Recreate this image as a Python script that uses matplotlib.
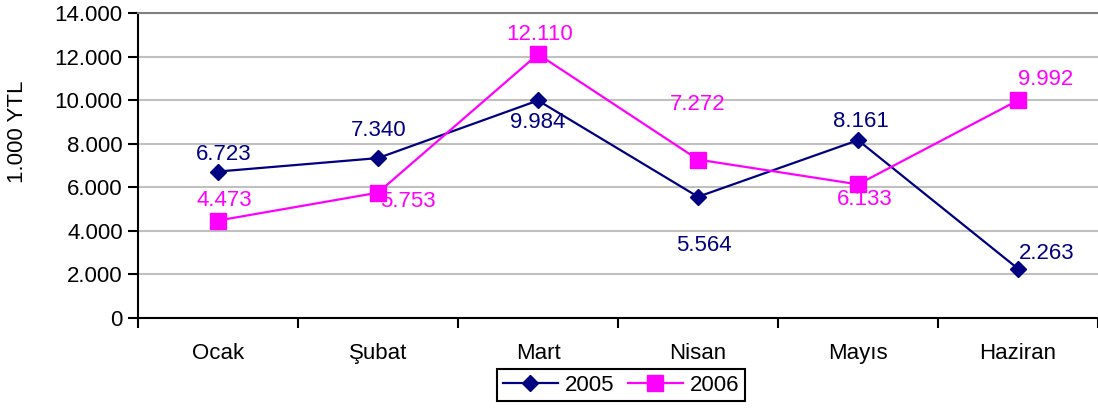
import matplotlib.pyplot as plt
from matplotlib.ticker import FuncFormatter, FixedLocator

plt.rcParams['font.family'] = ['Liberation Sans', 'DejaVu Sans']

months = ["Ocak", "Şubat", "Mart", "Nisan", "Mayıs", "Haziran"]
y2005 = [6723, 7340, 9984, 5564, 8161, 2263]
y2006 = [4473, 5753, 12110, 7272, 6133, 9992]

# label offsets in pixels (dx, dy)
off2005 = [(6, 17), (1, 28), (0, -22), (6, -49), (3, 19), (29, 15)]
off2006 = [(6, 20), (30, -9), (2, 20), (0, 55), (7, -15), (28, 21)]

navy = "#000080"
magenta = "#FF00FF"
fs = 16

fig = plt.figure(figsize=(10.98, 4.11), dpi=100)
ax = fig.add_axes([138 / 1098, 1 - 318 / 411, 1 - 138 / 1098, 305 / 411])

x = range(len(months))
ax.plot(x, y2005, color=navy, lw=1.6, marker="D", ms=8, label="2005", zorder=3)
ax.plot(x, y2006, color=magenta, lw=1.6, marker="s", ms=11.5, label="2006", zorder=3)

fmt = lambda v: f"{v:,.0f}".replace(",", ".")
for xi, v, (dx, dy) in zip(x, y2005, off2005):
    ax.annotate(fmt(v), (xi, v), xytext=(dx, dy), textcoords="offset pixels",
                ha="center", va="center", color=navy, fontsize=fs)
for xi, v, (dx, dy) in zip(x, y2006, off2006):
    ax.annotate(fmt(v), (xi, v), xytext=(dx, dy), textcoords="offset pixels",
                ha="center", va="center", color=magenta, fontsize=fs)

ax.set_xlim(-0.5, 5.5)
ax.set_ylim(0, 14000)
ax.set_yticks(range(0, 14001, 2000))
ax.yaxis.set_major_formatter(FuncFormatter(lambda v, p: fmt(v)))
ax.grid(axis="y", color="#c0c0c0", lw=1.5)
ax.set_axisbelow(True)

ax.set_xticks(list(x))
ax.set_xticklabels(months)
ax.xaxis.set_minor_locator(FixedLocator([i - 0.5 for i in range(7)]))
ax.tick_params(axis="x", which="major", length=0, pad=18, labelsize=fs)
ax.tick_params(axis="x", which="minor", length=7, width=1.5)
ax.tick_params(axis="y", length=7, width=1.5, labelsize=fs, pad=4)

for s in ["left", "bottom"]:
    ax.spines[s].set_linewidth(1.5)
ax.spines["right"].set_visible(False)
ax.spines["top"].set_color("#808080")
ax.spines["top"].set_linewidth(1.5)

fig.text(18 / 1098, 1 - 132 / 411, "1.000 YTL", rotation=90, ha="center",
         va="center", fontsize=fs)

leg = fig.legend(loc="center", bbox_to_anchor=(621 / 1098, 1 - 385 / 411), ncol=2,
                 fontsize=fs, fancybox=False, framealpha=1, edgecolor="black",
                 handlelength=2.5, columnspacing=0.6, handletextpad=0.3,
                 borderpad=0.25, borderaxespad=0)
leg.get_frame().set_linewidth(1.5)

fig.savefig("out.png", dpi=100)
